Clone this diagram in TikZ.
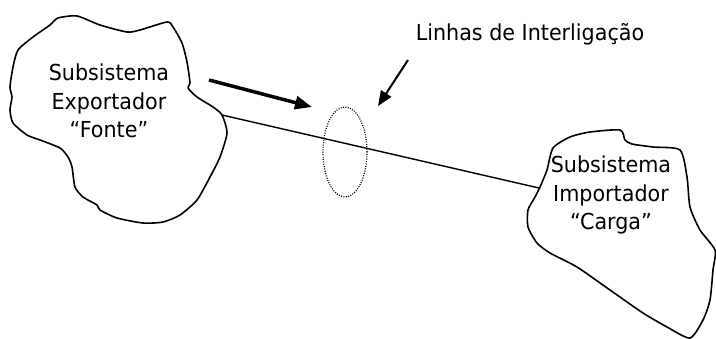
\documentclass[tikz,border=0pt]{standalone}
\usepackage{fontspec}
\setmainfont{DejaVu Sans}[FakeStretch=0.94]
\usetikzlibrary{arrows.meta, shapes.geometric}

\begin{document}
\begin{tikzpicture}[x=1pt, y=-1pt, line join=round,
  blob/.style={draw, line width=1.6pt, smooth cycle, tension=0.4},
  rotulo/.style={align=center, font=\fontsize{22}{28.5}\selectfont}]
  \clip (0,0) rectangle (716,338);
  % Subsistemas
  \draw[blob] plot coordinates {(50,25) (58,18) (77,16) (100,25) (127,32) (140,30)
    (167,22) (173,27) (182,43) (187,62) (190,83) (188,88) (197,97) (213,107)
    (222,115) (227,133) (220,157) (210,177) (197,200) (180,215) (163,222)
    (143,223) (117,218) (100,210) (97,205) (83,197) (75,187) (72,167) (68,157)
    (60,148) (40,140) (27,135) (13,123) (10,110) (12,97) (10,87) (13,67)
    (18,50) (33,37)};
  \draw[blob] plot coordinates {(553,148) (570,137) (590,132) (620,130) (625,140)
    (632,144) (653,147) (680,150) (687,177) (690,207) (700,230) (715,250)
    (713,270) (710,300) (703,320) (690,338) (667,327) (643,313) (610,290)
    (577,267) (550,253) (537,243) (528,227) (528,210) (535,197) (540,187)
    (547,170)};
  \node[rotulo] (fonte) at (109,101) {Subsistema\\Exportador\\``Fonte''};
  \node[rotulo] (carga) at (611,195) {Subsistema\\Importador\\``Carga''};
  \node[rotulo, anchor=base] (titulo) at (530,40) {Linhas de Interligação};
  % Linhas de interligacao
  \node[draw, ellipse, line width=1.2pt, dash pattern=on 1pt off 1.4pt,
        minimum width=44pt, minimum height=90pt, inner sep=0pt] (linhas) at (345,152) {};
  \coordinate (saida) at (222,115);
  \coordinate (entrada) at (539,188);
  \draw[line width=1.4pt] (saida) -- (entrada);
  % Setas
  \coordinate (fluxoA) at (209,80);
  \coordinate (fluxoB) at (312,107);
  \draw[-{Triangle[length=17pt, width=13pt]}, line width=3.5pt] (fluxoA) -- (fluxoB);
  \coordinate (indA) at (408,60);
  \coordinate (indB) at (378,106);
  \draw[-{Triangle[length=15pt, width=12pt]}, line width=2pt] (indA) -- (indB);
\end{tikzpicture}
\end{document}
